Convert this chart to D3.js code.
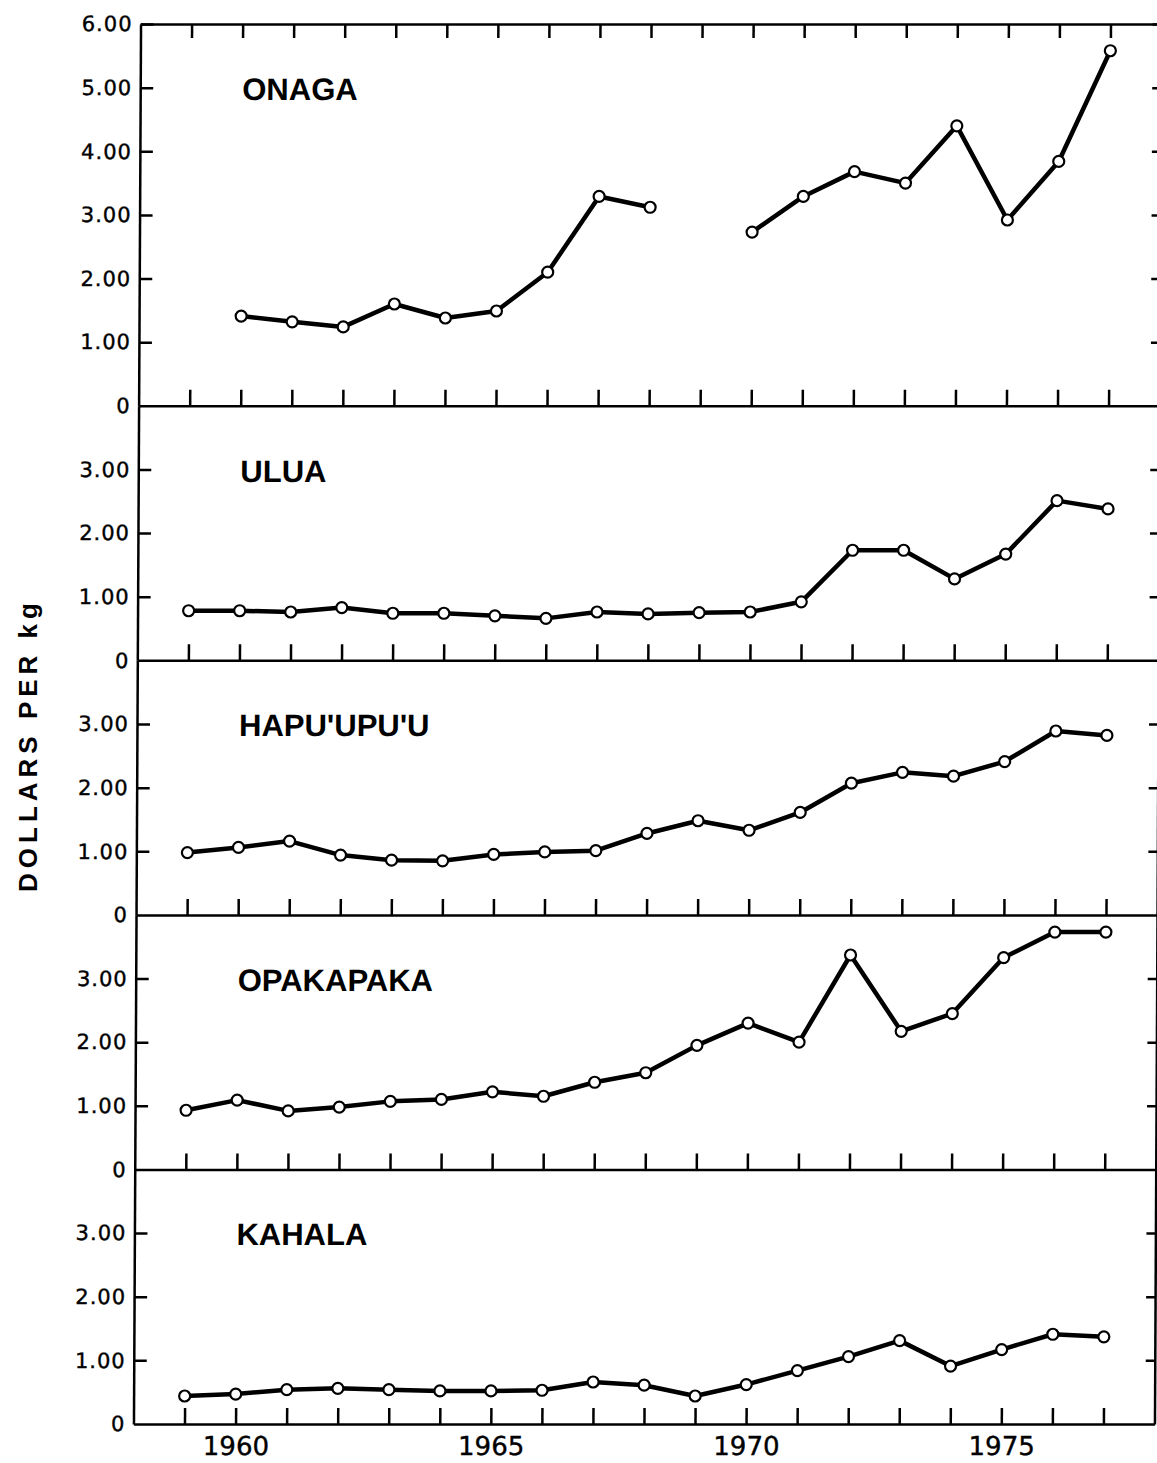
<!DOCTYPE html>
<html>
<head>
<meta charset="utf-8">
<script src="https://cdn.jsdelivr.net/npm/d3@7/dist/d3.min.js"></script>
<style>
    body { margin: 0; background: #fff; }
    svg { display: block; }
</style>
</head>
<body>
<div id="chart"></div>
<script>
// Yearly values, dollars per kg
const years = [1959, 1960, 1961, 1962, 1963, 1964, 1965, 1966, 1967, 1968,
    1969, 1970, 1971, 1972, 1973, 1974, 1975, 1976, 1977]
const yearLabels = [1960, 1965, 1970, 1975]

const onaga = [null, 1.41, 1.32, 1.24, 1.60, 1.38, 1.49, 2.10, 3.29, 3.12,
    null, 2.73, 3.29, 3.68, 3.50, 4.40, 2.92, 3.84, 5.58]
const ulua = [0.78, 0.78, 0.76, 0.83, 0.74, 0.74, 0.70, 0.66, 0.76, 0.73,
    0.75, 0.76, 0.92, 1.73, 1.73, 1.28, 1.67, 2.51, 2.38]
const hapuupuu = [0.98, 1.06, 1.16, 0.94, 0.86, 0.85, 0.95, 0.99, 1.01, 1.28,
    1.48, 1.33, 1.61, 2.07, 2.24, 2.18, 2.41, 2.89, 2.82]
const opakapaka = [0.93, 1.09, 0.92, 0.98, 1.07, 1.10, 1.22, 1.15, 1.37, 1.52,
    1.95, 2.30, 2.00, 3.37, 2.17, 2.45, 3.33, 3.73, 3.73]
const kahala = [0.44, 0.47, 0.54, 0.56, 0.54, 0.52, 0.52, 0.53, 0.66, 0.61,
    0.44, 0.62, 0.84, 1.06, 1.31, 0.91, 1.17, 1.41, 1.37]

const panelNames = ["ONAGA", "ULUA", "HAPU'UPU'U", "OPAKAPAKA", "KAHALA"]
const panelSeries = [onaga, ulua, hapuupuu, opakapaka, kahala]
const panelMax = [6, 4, 4, 4, 4]
const topTicks = [1, 2, 3, 4, 5, 6]
const lowerTicks = [1, 2, 3]

const width = 1157, height = 1463
const plotTop = 24, plotBottom = 1424
const unit = (plotBottom - plotTop) / d3.sum(panelMax)

const xScale = d3.scaleLinear().domain([1958, 1978]).range([137, 1158])

const svg = d3.select("#chart")
    .append("svg")
    .attr("width", width)
    .attr("height", height)

// the scanned figure leans a little, shear everything about its middle
const midY = (plotTop + plotBottom) / 2
const g = svg.append("g")
    .attr("transform", `translate(0,${midY}) skewX(-0.29) translate(0,${-midY})`)

const fmt = d3.format(".2f")

function styleAxis(sel) {
    sel.selectAll("path, line")
        .attr("stroke", "#000")
        .attr("stroke-width", 2.5)
    sel.selectAll("text")
        .attr("fill", "#000")
        .style("font-family", "'DejaVu Sans', sans-serif")
        .style("font-size", "21px")
        .style("letter-spacing", "1px")
        .attr("stroke", "#000")
        .attr("stroke-width", 0.4)
}

let offset = plotTop
panelNames.forEach((name, i) => {
    const max = panelMax[i]
    const y0 = offset
    const y1 = offset + max * unit
    offset = y1

    const yScale = d3.scaleLinear().domain([0, max]).range([y1, y0])
    const ticks = i === 0 ? topTicks : lowerTicks
    const labelTicks = [0].concat(ticks)

    // left frame with inward ticks
    g.append("g")
        .attr("transform", `translate(${xScale.range()[0]},0)`)
        .call(d3.axisRight(yScale).tickValues(ticks).tickSize(13).tickSizeOuter(0).tickFormat(""))
        .call(styleAxis)

    // value labels
    g.append("g")
        .attr("transform", `translate(${xScale.range()[0]},0)`)
        .call(d3.axisLeft(yScale).tickValues(labelTicks).tickSize(0).tickPadding(8)
            .tickFormat(d => d === 0 ? "0" : fmt(d)))
        .call(styleAxis)
        .call(a => a.select(".domain").remove())

    // right frame with inward ticks
    g.append("g")
        .attr("transform", `translate(${xScale.range()[1]},0)`)
        .call(d3.axisLeft(yScale).tickValues(ticks).tickSize(9).tickSizeOuter(0).tickFormat(""))
        .call(styleAxis)

    // zero line with year ticks pointing up
    g.append("g")
        .attr("transform", `translate(0,${y1})`)
        .call(d3.axisTop(xScale).tickValues(years).tickSize(16).tickSizeOuter(0).tickFormat(""))
        .call(styleAxis)

    if (i === 0) {
        g.append("g")
            .attr("transform", `translate(0,${y0})`)
            .call(d3.axisBottom(xScale).tickValues(years).tickSize(14).tickSizeOuter(0).tickFormat(""))
            .call(styleAxis)
    }

    g.append("text")
        .attr("x", xScale(1960))
        .attr("y", y0 + 76)
        .style("font-family", "'Liberation Sans', Arial, sans-serif")
        .style("font-weight", "bold")
        .style("font-size", "31px")
        .text(name)

    const allPoints = years.map((yr, j) => ({ year: yr, value: panelSeries[i][j] }))
    const points = allPoints.filter(d => d.value !== null)

    const line = d3.line()
        .defined(d => d.value !== null)
        .x(d => xScale(d.year))
        .y(d => yScale(d.value))

    g.append("path")
        .datum(allPoints)
        .attr("d", line)
        .attr("fill", "none")
        .attr("stroke", "#000")
        .attr("stroke-width", 4.5)
        .attr("stroke-linejoin", "round")

    g.selectAll(".dot-" + i)
        .data(points)
        .enter().append("circle")
        .attr("class", "dot-" + i)
        .attr("cx", d => xScale(d.year))
        .attr("cy", d => yScale(d.value))
        .attr("r", 5.5)
        .attr("fill", "#fff")
        .attr("stroke", "#000")
        .attr("stroke-width", 2.2)
})

// year labels under the last panel
g.append("g")
    .attr("transform", `translate(0,${plotBottom})`)
    .call(d3.axisBottom(xScale).tickValues(yearLabels).tickSize(0).tickPadding(13).tickFormat(d3.format("d")))
    .call(styleAxis)
    .call(a => a.select(".domain").remove())
    .call(a => a.selectAll("text").style("font-size", "26px").style("letter-spacing", "0px"))

svg.append("text")
    .attr("transform", `translate(37,745) rotate(-90)`)
    .attr("text-anchor", "middle")
    .style("font-family", "'Liberation Sans', Arial, sans-serif")
    .style("font-weight", "bold")
    .style("font-size", "26px")
    .style("letter-spacing", "5px")
    .text("DOLLARS PER kg")
</script>
</body>
</html>
